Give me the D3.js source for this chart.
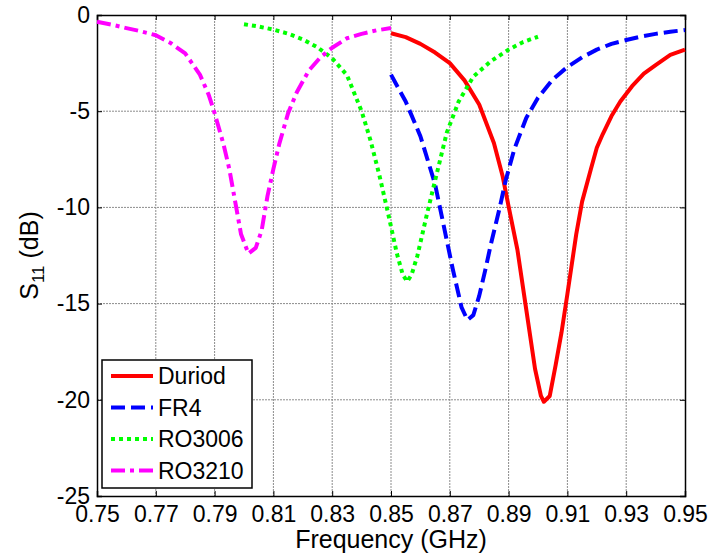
<!DOCTYPE html>
<html>
<head>
<meta charset="utf-8">
<script src="https://cdn.jsdelivr.net/npm/d3@7"></script>
<style>
  body { margin: 0; background: #fff; }
  text { font-family: "Liberation Sans", Arial, sans-serif; fill: #000; }
</style>
</head>
<body>
<svg id="chart"></svg>
<script>
const WIDTH = 713;
const HEIGHT = 556;
const margin = {top: 15, right: 28, bottom: 60, left: 97};

// data (frequency in GHz, S11 in dB)
const durFreq = [0.850, 0.855, 0.860, 0.865, 0.870, 0.875, 0.880, 0.885, 0.888, 0.890, 0.893, 0.896, 0.899, 0.901, 0.902, 0.904, 0.906, 0.908, 0.910, 0.913, 0.915, 0.918, 0.920, 0.922, 0.925, 0.928, 0.932, 0.936, 0.940, 0.945, 0.950];
const durS11  = [-0.95, -1.15, -1.50, -1.95, -2.50, -3.40, -4.65, -6.65, -8.40, -9.95, -12.2, -15.3, -18.4, -19.8, -20.1, -19.8, -18.2, -16.5, -14.5, -11.4, -9.7, -8.0, -6.9, -6.2, -5.25, -4.5, -3.7, -3.05, -2.6, -2.07, -1.8];

const fr4Freq = [0.850, 0.855, 0.860, 0.865, 0.868, 0.871, 0.874, 0.876, 0.878, 0.880, 0.882, 0.884, 0.887, 0.889, 0.892, 0.896, 0.900, 0.905, 0.910, 0.915, 0.920, 0.925, 0.930, 0.935, 0.940, 0.945, 0.950];
const fr4S11  = [-3.1, -4.5, -6.3, -8.8, -11.0, -13.2, -15.2, -15.85, -15.6, -14.6, -13.3, -11.9, -10.0, -8.6, -6.95, -5.35, -4.3, -3.35, -2.7, -2.2, -1.8, -1.5, -1.3, -1.12, -0.98, -0.87, -0.78];

const ro3006Freq = [0.800, 0.805, 0.810, 0.815, 0.820, 0.825, 0.830, 0.835, 0.840, 0.843, 0.846, 0.849, 0.852, 0.854, 0.8555, 0.857, 0.859, 0.862, 0.865, 0.869, 0.873, 0.878, 0.884, 0.890, 0.895, 0.900];
const ro3006S11  = [-0.48, -0.6, -0.76, -0.97, -1.27, -1.68, -2.25, -3.12, -5.0, -6.5, -8.3, -10.3, -12.4, -13.5, -13.85, -13.5, -12.5, -10.5, -8.6, -6.1, -4.5, -3.2, -2.4, -1.8, -1.4, -1.13];

const ro3210Freq = [0.750, 0.755, 0.760, 0.765, 0.770, 0.775, 0.780, 0.785, 0.788, 0.790, 0.793, 0.795, 0.797, 0.799, 0.8015, 0.804, 0.806, 0.808, 0.810, 0.812, 0.815, 0.818, 0.822, 0.826, 0.830, 0.835, 0.840, 0.845, 0.850];
const ro3210S11  = [-0.35, -0.5, -0.68, -0.85, -1.05, -1.45, -2.0, -3.1, -4.15, -5.1, -6.7, -8.0, -9.7, -11.4, -12.4, -12.1, -11.2, -9.4, -8.0, -6.7, -5.1, -4.0, -2.9, -2.2, -1.7, -1.21, -0.98, -0.8, -0.68];

const seriesNames = ['Duriod', 'FR4', 'RO3006', 'RO3210'];
const seriesColors = ['#ff0000', '#0000ff', '#00ff00', '#ff00ff'];
const seriesDash = [null, '14,6', '4,4', '14,5,4,5'];

const xTicks = [0.75, 0.77, 0.79, 0.81, 0.83, 0.85, 0.87, 0.89, 0.91, 0.93, 0.95];
const yTicks = [0, -5, -10, -15, -20, -25];

const series = [
    {freq: durFreq, s11: durS11},
    {freq: fr4Freq, s11: fr4S11},
    {freq: ro3006Freq, s11: ro3006S11},
    {freq: ro3210Freq, s11: ro3210S11}
];

const svg = d3.select('#chart')
    .attr('width', WIDTH)
    .attr('height', HEIGHT);

svg.append('rect').attr('width', WIDTH).attr('height', HEIGHT).attr('fill', '#fff');

const innerW = WIDTH - margin.left - margin.right;
const innerH = HEIGHT - margin.top - margin.bottom;

const x = d3.scaleLinear().domain([0.75, 0.95]).range([0, innerW]);
const y = d3.scaleLinear().domain([-25, 0]).range([innerH, 0]);

const g = svg.append('g').attr('transform', 'translate(' + margin.left + ',' + margin.top + ')');

// grid
g.append('g').selectAll('line')
    .data(xTicks.slice(1, -1))
    .enter().append('line')
    .attr('x1', d => x(d)).attr('x2', d => x(d))
    .attr('y1', 0).attr('y2', innerH)
    .attr('stroke', '#8c8c8c').attr('stroke-width', 1).attr('stroke-dasharray', '2,1');
g.append('g').selectAll('line')
    .data(yTicks.slice(1, -1))
    .enter().append('line')
    .attr('y1', d => y(d)).attr('y2', d => y(d))
    .attr('x1', 0).attr('x2', innerW)
    .attr('stroke', '#8c8c8c').attr('stroke-width', 1).attr('stroke-dasharray', '2,1');

// axes (ticks inside, like matlab)
const bottomAxis = d3.axisBottom(x).tickValues(xTicks).tickSize(-5).tickPadding(10).tickFormat(d3.format('.2f'));
const leftAxis = d3.axisLeft(y).tickValues(yTicks).tickSize(-5).tickPadding(7).tickFormat(d => d === 0 ? '0' : '-' + Math.abs(d));
const topAxis = d3.axisTop(x).tickValues(xTicks).tickSize(-5).tickFormat('');
const rightAxis = d3.axisRight(y).tickValues(yTicks).tickSize(-5).tickFormat('');

g.append('g').attr('transform', 'translate(0,' + innerH + ')').call(bottomAxis);
g.append('g').call(leftAxis);
g.append('g').call(topAxis);
g.append('g').attr('transform', 'translate(' + innerW + ',0)').call(rightAxis);

g.selectAll('.domain').attr('stroke', '#000').attr('stroke-width', 1.5);
g.selectAll('.tick line').attr('stroke', '#000');
g.selectAll('.tick text').attr('font-size', 23).attr('font-family', '"Liberation Sans", Arial, sans-serif').attr('fill', '#000');

// curves
const line = d3.line()
    .x(d => x(d[0]))
    .y(d => y(d[1]));

series.forEach(function(s, i) {
    const pts = s.freq.map((f, j) => [f, s.s11[j]]);
    g.append('path')
        .datum(pts)
        .attr('d', line)
        .attr('fill', 'none')
        .attr('stroke', seriesColors[i])
        .attr('stroke-width', 4)
        .attr('stroke-linejoin', 'round')
        .attr('stroke-dasharray', seriesDash[i]);
});

// legend
const legend = svg.append('g').attr('transform', 'translate(102,360)');
legend.append('rect')
    .attr('width', 150).attr('height', 128)
    .attr('fill', '#fff').attr('stroke', '#000').attr('stroke-width', 1.5);
seriesNames.forEach(function(name, i) {
    const row = legend.append('g').attr('transform', 'translate(0,' + (16 + i * 31.5) + ')');
    row.append('line')
        .attr('x1', 9).attr('x2', 51)
        .attr('stroke', seriesColors[i]).attr('stroke-width', 4)
        .attr('stroke-dasharray', seriesDash[i]);
    row.append('text')
        .attr('x', 56).attr('y', 8)
        .attr('font-size', 23)
        .text(name);
});

// axis labels
svg.append('text')
    .attr('x', margin.left + innerW / 2).attr('y', 548)
    .attr('text-anchor', 'middle')
    .attr('font-size', 25)
    .text('Frequency (GHz)');

const ylab = svg.append('text')
    .attr('transform', 'translate(38,' + (margin.top + innerH / 2) + ') rotate(-90)')
    .attr('text-anchor', 'middle')
    .attr('font-size', 25);
ylab.append('tspan').text('S');
ylab.append('tspan').attr('font-size', 17).attr('dy', 6).text('11');
ylab.append('tspan').attr('dy', -6).text(' (dB)');
</script>
</body>
</html>
